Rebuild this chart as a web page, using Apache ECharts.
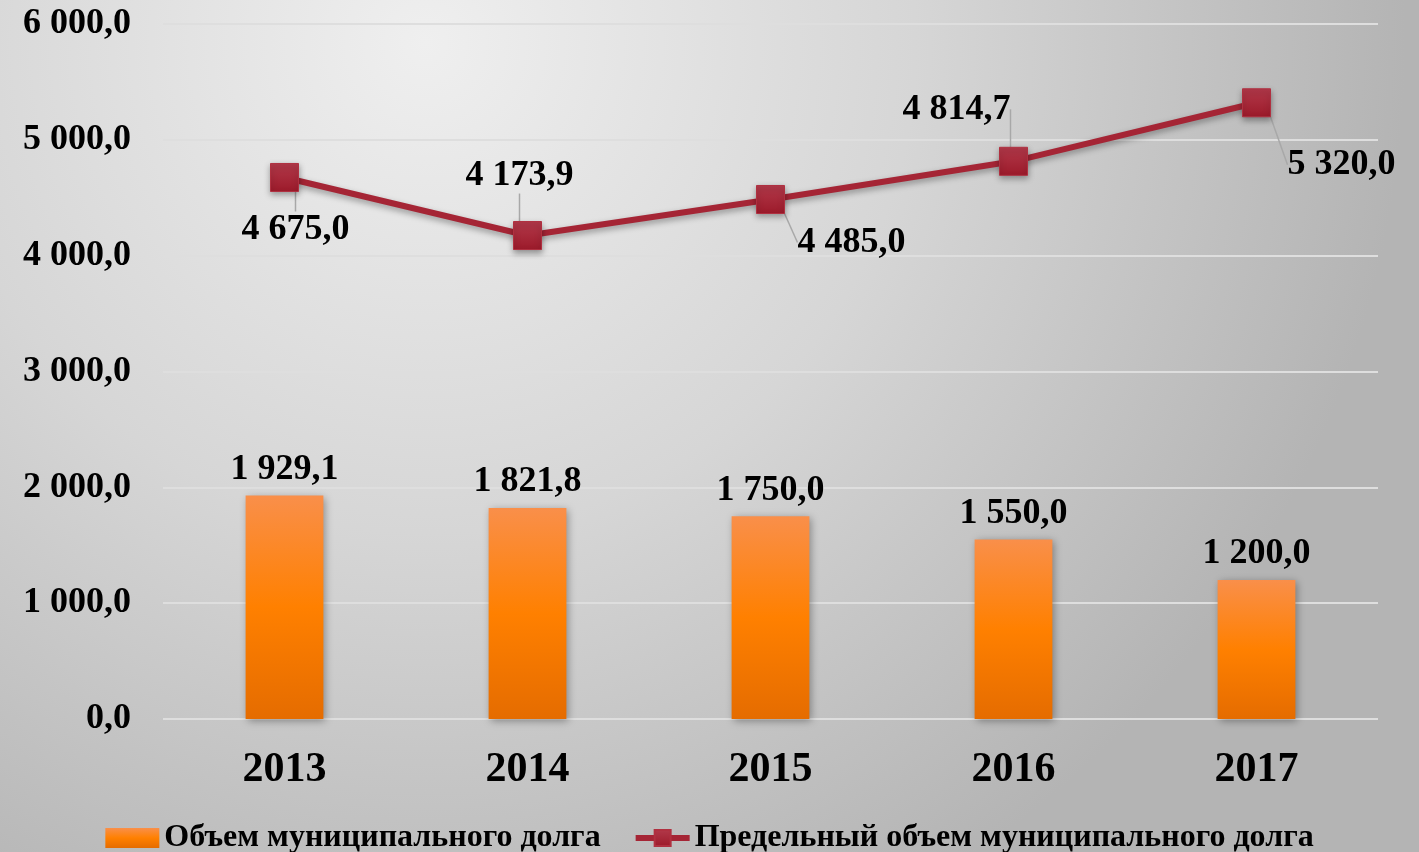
<!DOCTYPE html>
<html>
<head>
<meta charset="utf-8">
<script src="https://cdn.jsdelivr.net/npm/echarts@6/dist/echarts.min.js"></script>
<style>
html,body{margin:0;padding:0;width:1419px;height:852px;overflow:hidden;}
#chart{width:1419px;height:852px;}
</style>
</head>
<body>
<div id="chart"></div>
<script>
const years = ['2013', '2014', '2015', '2016', '2017'];
const debtValues = [1929.1, 1821.8, 1750.0, 1550.0, 1200.0];
const limitValues = [4675.0, 4173.9, 4485.0, 4814.7, 5320.0];
const seriesNames = ['Объем муниципального долга', 'Предельный объем муниципального долга'];
const limitLabelShift = [[11, 52], [-8, -60], [81, 43], [-57, -52], [85, 62]];

function fmt(v) {
  const parts = v.toFixed(1).split('.');
  const intPart = parts[0].replace(/\B(?=(\d{3})+(?!\d))/g, ' ');
  return intPart + ',' + parts[1];
}

const FONT = '"Liberation Serif", "Times New Roman", serif';
const chart = echarts.init(document.getElementById('chart'));
chart.setOption({
  backgroundColor: {
    type: 'radial', x: 0.3, y: 0.05, r: 1.15,
    colorStops: [
      {offset: 0, color: '#efefef'},
      {offset: 0.5, color: '#d6d6d6'},
      {offset: 1, color: '#b4b4b4'}
    ]
  },
  animation: false,
  grid: {left: 163, right: 41, top: 24, bottom: 133, containLabel: false},
  legend: {
    bottom: -7,
    left: 'center',
    itemGap: 32,
    itemWidth: 54,
    itemHeight: 20,
    textStyle: {fontFamily: FONT, fontWeight: 'bold', fontSize: 32, color: '#000'},
    data: [
      {name: seriesNames[0], icon: 'rect'},
      {name: seriesNames[1], lineStyle: {width: 6}}
    ]
  },
  xAxis: {
    type: 'category',
    data: years,
    axisLine: {show: false},
    axisTick: {show: false},
    axisLabel: {fontFamily: FONT, fontWeight: 'bold', fontSize: 42, color: '#000', margin: 30}
  },
  yAxis: {
    type: 'value',
    min: 0, max: 6000, interval: 1000,
    axisLine: {show: false},
    axisTick: {show: false},
    axisLabel: {fontFamily: FONT, fontWeight: 'bold', fontSize: 36, color: '#000', margin: 32, formatter: fmt},
    splitLine: {lineStyle: {color: '#dedede', width: 2}}
  },
  series: [
    {
      name: seriesNames[0],
      type: 'bar',
      data: debtValues,
      barWidth: '32%',
      itemStyle: {
        color: {
          type: 'linear', x: 0, y: 0, x2: 0, y2: 1,
          colorStops: [
            {offset: 0, color: '#f98f4a'},
            {offset: 0.5, color: '#ff8000'},
            {offset: 1, color: '#e56c00'}
          ]
        },
        shadowColor: 'rgba(0,0,0,0.35)',
        shadowBlur: 8,
        shadowOffsetX: 2,
        shadowOffsetY: 2
      },
      label: {
        show: true, position: 'top', distance: 8,
        fontFamily: FONT, fontWeight: 'bold', fontSize: 36, color: '#000',
        formatter: p => fmt(p.value)
      }
    },
    {
      name: seriesNames[1],
      type: 'line',
      data: limitValues,
      symbol: 'rect',
      symbolSize: 28,
      lineStyle: {color: '#a52535', width: 6, shadowColor: 'rgba(0,0,0,0.35)', shadowBlur: 6, shadowOffsetY: 3},
      itemStyle: {
        color: {
          type: 'linear', x: 0, y: 0, x2: 0, y2: 1,
          colorStops: [
            {offset: 0, color: '#b2394a'},
            {offset: 1, color: '#9c1a2a'}
          ]
        },
        borderColor: '#b03040', borderWidth: 1,
        shadowColor: 'rgba(0,0,0,0.35)', shadowBlur: 6, shadowOffsetY: 3
      },
      label: {
        show: true, position: 'inside',
        fontFamily: FONT, fontWeight: 'bold', fontSize: 36, color: '#000',
        formatter: p => fmt(p.value)
      },
      labelLine: {show: true, lineStyle: {color: '#a8a8a8', width: 1.5}},
      labelLayout: function (params) {
        const s = limitLabelShift[params.dataIndex];
        return {dx: s[0], dy: s[1]};
      }
    }
  ]
});
</script>
</body>
</html>
